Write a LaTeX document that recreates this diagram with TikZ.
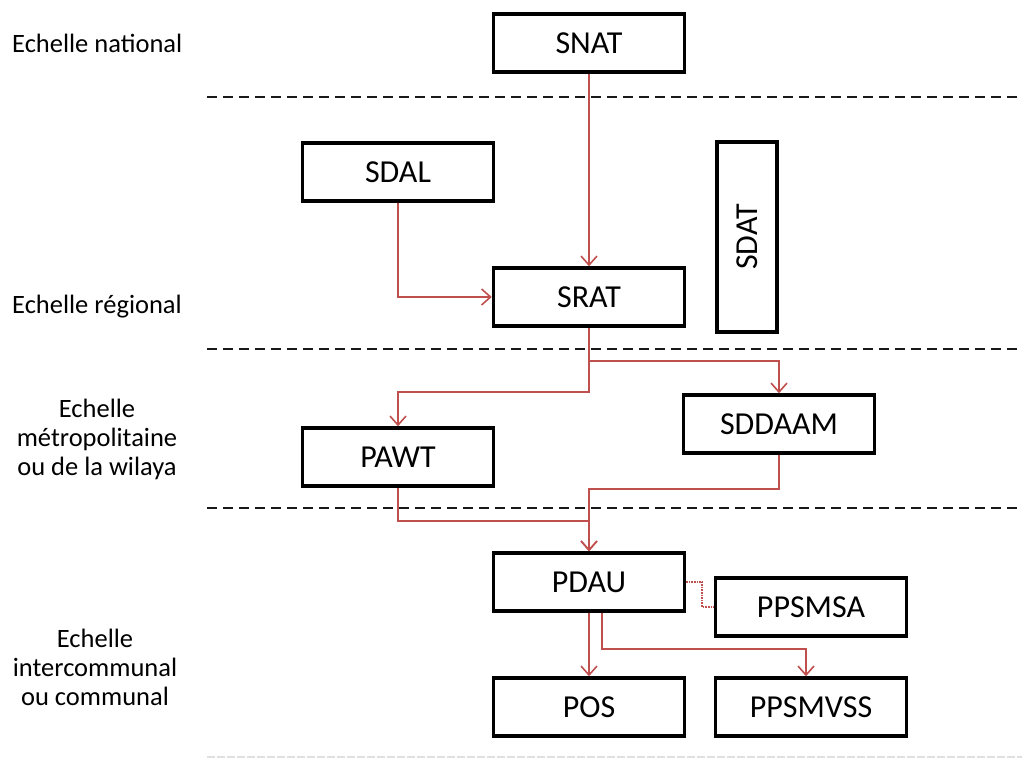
\documentclass[tikz,border=0pt]{standalone}
\usepackage{fontspec}
\setmainfont{Carlito}
\usetikzlibrary{arrows.meta,calc}
\definecolor{linkred}{RGB}{192,80,77}
\definecolor{sepgrey}{RGB}{25,25,25}
\begin{document}
\begin{tikzpicture}[x=1pt,y=-1pt,
  box/.style={draw=black, line width=3.5pt, fill=white, minimum width=191pt, minimum height=58pt, inner sep=0pt, font=\fontsize{32}{38}\selectfont},
  link/.style={draw=linkred, line width=1.7pt, -{Straight Barb[length=9pt,width=16pt,line width=1.6pt]}},
  weaklink/.style={draw=linkred, line width=1.6pt, densely dotted},
  sepline/.style={draw=sepgrey, line width=2.2pt, dash pattern=on 10pt off 6pt},
  faintline/.style={draw=black!12, line width=2pt, dash pattern=on 8pt off 2pt},
  lbl/.style={font=\fontsize{26.5}{29}\selectfont, align=center, inner sep=0pt}]
\useasboundingbox (0,0) rectangle (1022,760);

% separators
\draw[sepline] (207,97) -- (1022,97);
\draw[sepline] (207,349) -- (1022,349);
\draw[sepline] (207,508) -- (1022,508);
\draw[faintline] (207,757) -- (1022,757);

% level labels
\node[lbl, anchor=west] (lnat) at (12,43) {Echelle national};
\node[lbl, anchor=west] (lreg) at (12,307) {Echelle régional};
\node[lbl] (lmet) at (97,439) {Echelle\\métropolitaine\\ou de la wilaya};
\node[lbl] (lcom) at (95,667) {Echelle\\intercommunal\\ou communal};

% boxes
\node[box] (SNAT) at (589,43) {SNAT};
\node[box] (SDAL) at (398,172) {SDAL};
\node[box, rotate=90, minimum width=190pt, minimum height=60pt] (SDAT) at (747,237) {SDAT};
\node[box] (SRAT) at (589,297) {SRAT};
\node[box] (PAWT) at (398,457) {PAWT};
\node[box] (SDDAAM) at (779,424) {SDDAAM};
\node[box] (PDAU) at (589,582) {PDAU};
\node[box] (PPSMSA) at (811,607) {PPSMSA};
\node[box] (POS) at (589,707) {POS};
\node[box] (PPSMVSS) at (811,707) {PPSMVSS};

% connectors
\draw[link] (SNAT.south) -- (SRAT.north);
\draw[link] (SDAL.south) |- (SRAT.west);
\draw[link] (SRAT.south) -- ++(0,33) -| (SDDAAM.north);
\draw[link] (SRAT.south) -- ++(0,64) -| (PAWT.north);
\draw[link] (PAWT.south) |- ($(PDAU.north)+(0,-30)$) -- (PDAU.north);
\draw[link] (SDDAAM.south) |- ($(PDAU.north)+(0,-62)$) -- (PDAU.north);
\draw[weaklink] (PDAU.east) -- ++(16,0) |- (PPSMSA.west);
\draw[link] (PDAU.south) -- (POS.north);
\draw[link] ($(PDAU.south)+(13,0)$) -- ++(0,36) -| ($(PPSMVSS.north)+(-5,0)$);
\end{tikzpicture}
\end{document}
